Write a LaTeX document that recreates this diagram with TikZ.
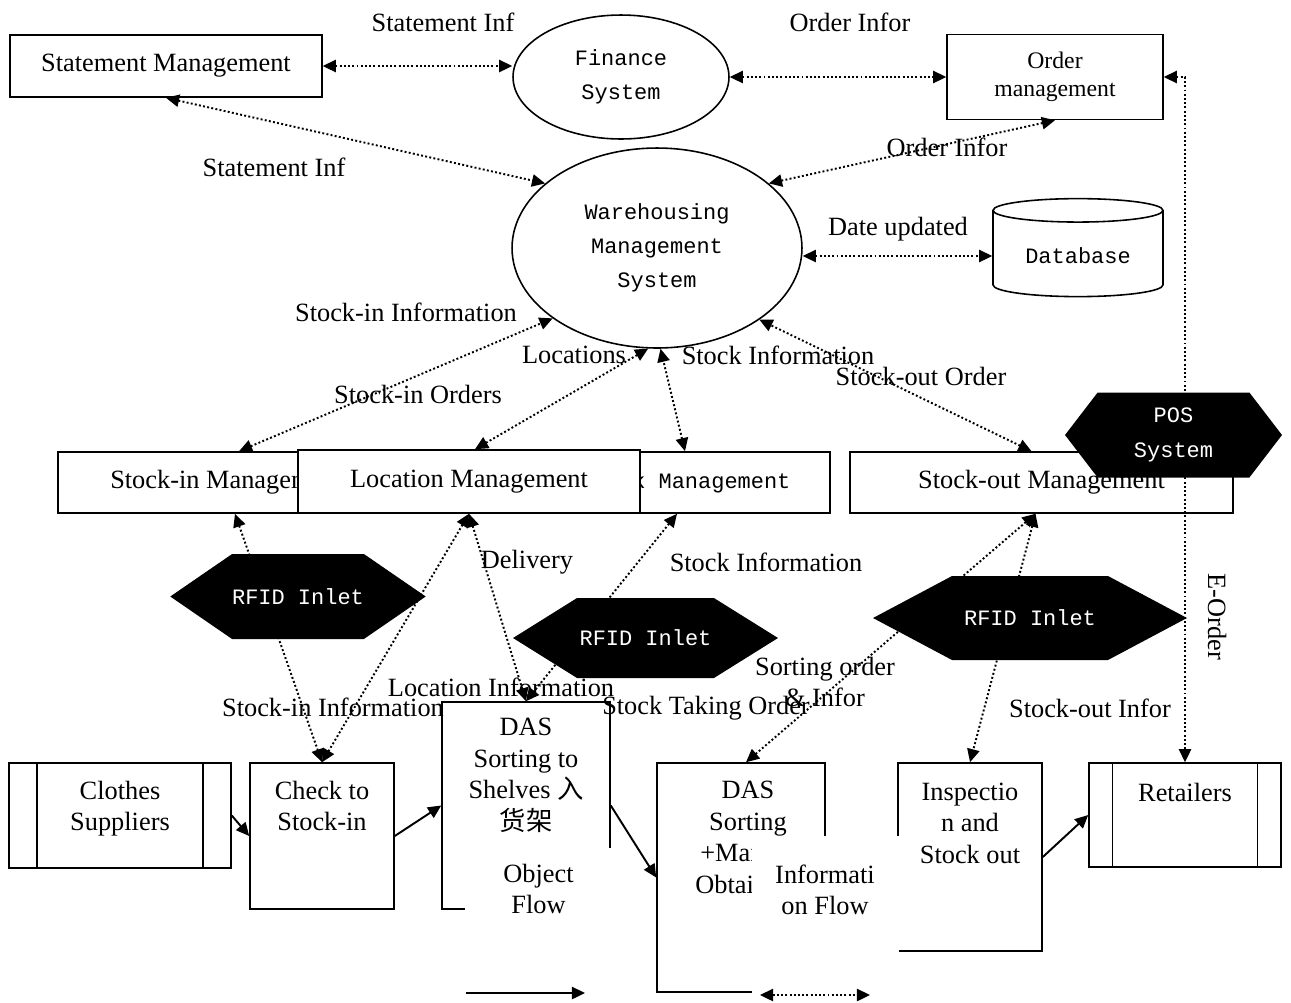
\documentclass[tikz,border=0pt]{standalone}
\usepackage{fontspec}
\setmainfont{Liberation Serif}
\newfontfamily\monofont{Liberation Mono}
\newfontfamily\cjkfont{Noto Sans CJK SC}
\usetikzlibrary{arrows.meta,positioning,calc,shapes.geometric,shapes.symbols,backgrounds}

\begin{document}
\begin{tikzpicture}[
    x=0.02cm, y=-0.02cm,
    font=\fontsize{15}{18}\selectfont,
    >={Triangle[length=7.5pt,width=7pt]},
    box/.style={draw, line width=0.9pt, inner sep=0pt, align=center},
    sysellipse/.style={draw, ellipse, line width=0.9pt, align=center,
                       font=\monofont\fontsize{12.5}{19.5}\selectfont},
    hexnode/.style={shape=signal, signal to=east and west, fill=black,
                    text=white, inner sep=0pt, align=center,
                    font=\monofont\fontsize{12.5}{19.5}\selectfont},
    extbox/.style={box, path picture={
        \draw[line width=0.9pt] ([xshift=#1]path picture bounding box.north west)
              -- ([xshift=#1]path picture bounding box.south west);
        \draw[line width=0.9pt] ([xshift=-#1]path picture bounding box.north east)
              -- ([xshift=-#1]path picture bounding box.south east);}},
    boxtext/.style={inner sep=0pt, align=center},
    flowtext/.style={inner sep=0pt, align=center},
    infoflow/.style={<->, line width=1.1pt, dash pattern=on 1.1pt off 1.3pt},
    objflow/.style={->, line width=1.1pt}
]
\useasboundingbox (0,0) rectangle (1291,1002);

\node[box, minimum width=6.24cm, minimum height=1.24cm] (stmt) at (166,66) {Statement Management};
\node[sysellipse, minimum width=4.32cm, minimum height=2.48cm] (fin) at (621,77) {Finance\\System};
\node[box, minimum width=4.32cm, minimum height=1.7cm,
      font=\fontsize{13.5}{16}\selectfont] (order) at (1055,77) {Order\\management};
\node[sysellipse, minimum width=5.8cm, minimum height=4cm] (wms) at (657,248)
    {Warehousing\\Management\\System};
\node[cylinder, draw, line width=0.9pt, shape border rotate=90, aspect=0.2,
      minimum width=3.4cm, minimum height=1.96cm,
      font=\monofont\fontsize{12.5}{15}\selectfont] (db) at (1078,256) {Database};

\node[box, minimum width=6.76cm, minimum height=1.22cm] (stockin) at (227,482.5) {Stock-in Management};
\node[box, minimum width=5.8cm, minimum height=1.22cm,
      font=\monofont\fontsize{12.5}{15}\selectfont] (stock) at (685,482.5) {Stock Management};
\node[box, fill=white, minimum width=6.84cm, minimum height=1.26cm] (loc) at (469,481.5) {Location Management};
\node[box, minimum width=7.66cm, minimum height=1.22cm] (stockout) at (1041.5,482.5) {Stock-out Management};

\node[hexnode, minimum width=4.34cm, minimum height=1.7cm, signal pointer angle=105] (pos) at (1173.5,435) {POS\\System};
\node[hexnode, minimum width=4.84cm, minimum height=1.7cm, signal pointer angle=69] (rfidin) at (298,596.5) {RFID Inlet};
\node[hexnode, minimum width=5.3cm, minimum height=1.6cm, signal pointer angle=64] (rfidmid) at (645.5,638) {RFID Inlet};
\node[hexnode, minimum width=6.28cm, minimum height=1.68cm, signal pointer angle=56] (rfidout) at (1030,618) {RFID Inlet};

\node[extbox=0.56cm, minimum width=4.44cm, minimum height=2.1cm] (supp) at (120,815.5) {};
\node[boxtext, below=10.5pt of supp.north] (supptext) {Clothes\\Suppliers};
\node[box, minimum width=2.88cm, minimum height=2.92cm] (check) at (322,836) {};
\node[boxtext, below=10.5pt of check.north] (checktext) {Check to\\Stock-in};
\node[box, minimum width=3.36cm, minimum height=4.14cm] (dasshelf) at (526,805.5) {};
\node[boxtext, below=9.5pt of dasshelf.north] (dasshelftext)
    {DAS\\Sorting to\\Shelves {\cjkfont 入}\\{\cjkfont 货架}};
\node[box, minimum width=3.36cm, minimum height=4.58cm] (dasman) at (741,877.5) {};
\node[boxtext, below=10.5pt of dasman.north, xshift=4pt] (dasmantext)
    {DAS\\Sorting\\+Manual\\Obtaining};
\node[box, minimum width=2.88cm, minimum height=3.76cm] (insp) at (970,857) {};
\node[boxtext, below=11.5pt of insp.north] (insptext) {Inspectio\\n and\\Stock out};
\node[extbox=0.47cm, minimum width=3.84cm, minimum height=2.08cm] (retail) at (1185,815) {};
\node[boxtext, below=12pt of retail.north] (retailtext) {Retailers};

\node[flowtext, fill=white, minimum width=2.94cm, minimum height=1.64cm] (objlegend) at (538.5,889) {Object\\Flow};
\node[fill=white, inner sep=0pt, minimum width=2.94cm, minimum height=3.14cm] (infomask) at (825.5,914.5) {};
\node[flowtext] (infolegend) at (825,890) {Informati\\on Flow};
\coordinate (objstart) at (466,993);
\coordinate (objend) at (585,993);
\coordinate (infostart) at (760,995);
\coordinate (infoend) at (870,995);

\node[flowtext] (lstmttop) at (443,22) {Statement Inf};
\node[flowtext] (lordertop) at (850,22) {Order Infor};
\node[flowtext] (lstmt) at (274,167) {Statement Inf};
\node[flowtext] (lorder) at (947,147) {Order Infor};
\node[flowtext] (ldate) at (898,229) {Date updated};
\node[flowtext] (lstockinup) at (406,312) {Stock-in Information};
\node[flowtext] (llocs) at (574,355) {Locations};
\node[flowtext] (lstockup) at (778,355) {Stock Information};
\node[flowtext] (lstockinord) at (418,394) {Stock-in Orders};
\node[flowtext] (lstockoutord) at (921,376) {Stock-out Order};
\node[flowtext] (ldelivery) at (527,562) {Delivery};
\node[flowtext] (lstocklow) at (766,562) {Stock Information};
\node[flowtext] (lsorting) at (825,682) {Sorting order\\\& Infor};
\node[flowtext] (llocinfo) at (501,687) {Location Information};
\node[flowtext] (lstockinlow) at (333,707) {Stock-in Information};
\node[flowtext] (ltaking) at (706,708) {Stock Taking Order};
\node[flowtext] (lstockout) at (1090,708) {Stock-out Infor};
\node[flowtext, rotate=-90] (leorder) at (1217,617) {E-Order};

\begin{pgfonlayer}{background}
\draw[infoflow] (stmt.east) -- (stmt.east -| fin.west);
\draw[infoflow] (fin.east) -- (order.west);
\draw[infoflow] (stmt.south) -- (wms.150);
\draw[infoflow] (order.south) -- (wms.30);
\draw[infoflow] (db.west -| wms.east) -- (db.west);
\draw[infoflow] (order.east) -| (retail.north);
\draw[infoflow] ($(stockin.north)+(12,0)$) -- (wms.214);
\draw[infoflow] ($(loc.north)+(6,0)$) -- (wms.265);
\draw[infoflow] (stock.north) -- (wms.272);
\draw[infoflow] ($(stockout.north)+(-10,0)$) -- (wms.325);
\draw[infoflow] ($(stockin.south)+(8,0)$) -- (check.north);
\draw[infoflow] (loc.south) -- (check.north);
\draw[infoflow] (loc.south) -- (dasshelf.north);
\draw[infoflow] ($(stock.south)+(-8,0)$) -- (dasshelf.north);
\draw[infoflow] ($(stockout.south)+(-6,0)$) -- ($(dasman.north)+(5,0)$);
\draw[infoflow] ($(stockout.south)+(-6,0)$) -- (insp.north);
\end{pgfonlayer}

\draw[objflow] (supp.east) -- (check.west);
\draw[objflow] (check.east) -- (dasshelf.west);
\draw[objflow] (dasshelf.east) -- (dasman.west);
\draw[objflow] (insp.east) -- (retail.west);
\draw[objflow] (objstart) -- (objend);
\draw[infoflow] (infostart) -- (infoend);

\end{tikzpicture}
\end{document}
